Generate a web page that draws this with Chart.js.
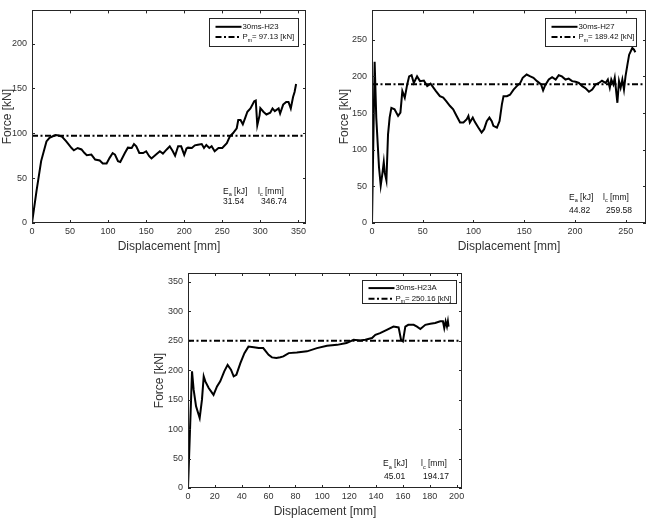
<!DOCTYPE html>
<html>
<head>
<meta charset="utf-8">
<script src="https://cdn.jsdelivr.net/npm/chart.js@4.4.0/dist/chart.umd.min.js"></script>
<style>
    body { margin: 0; background: #fff; }
    #wrap { position: relative; width: 648px; height: 523px; background: #fff; }
    canvas { position: absolute; }
</style>
</head>
<body>
<div id="wrap">
    <canvas id="chartH23" width="320" height="260" style="left:0;top:0"></canvas>
    <canvas id="chartH27" width="311" height="260" style="left:337px;top:0"></canvas>
    <canvas id="chartH23A" width="338" height="263" style="left:152px;top:260px"></canvas>
</div>
<script>
// test cases
const caseNames = ['30ms-H23', '30ms-H27', '30ms-H23A'];
const meanForce = [97.13, 189.42, 250.16];
const energyAbsorbed = [31.54, 44.82, 45.01];
const crushLength = [346.74, 259.58, 194.17];

// axis ranges
const xMax = [360, 270, 204];
const yMax = [237, 290, 365];
const xStep = [50, 50, 20];
const yStep = [50, 50, 50];

// 30ms-H23
const dispH23 = [0, 6, 12, 19, 23, 28, 31, 35, 39, 45, 52, 55, 60, 65, 69, 72, 78, 83, 89, 93,
    98, 102, 106, 109, 113, 116, 122, 126, 131, 134, 137, 141, 146, 150, 154, 157, 163, 168, 172, 177,
    181, 185, 188, 192, 196, 200, 203, 205, 210, 214, 218, 223, 226, 229, 233, 236, 240, 245, 250, 256,
    260, 264, 269, 271, 274, 277, 280, 283, 287, 292, 294, 296, 299, 300, 304, 308, 313, 316, 319, 324,
    326, 330, 334, 337, 340, 343, 345, 347];
const forceH23 = [0, 36, 69, 91, 95, 97, 98, 97.5, 96.5, 91, 83.6, 81, 83.6, 82, 78, 75.6, 76.3, 70.8, 69.7, 66.4,
    66.4, 72.6, 78, 76.3, 69, 68, 78, 84, 83.6, 88, 85.5, 78, 78, 80, 74.5, 72, 76.3, 80, 77.4, 82,
    85.5, 80, 75, 85.5, 85.5, 76, 83, 84, 83.6, 86.6, 87.3, 88, 83.6, 87, 83.6, 85.5, 80, 83.6, 83.6, 89,
    96.5, 100, 105.6, 114.8, 114.8, 110, 117, 124, 127.7, 135.7, 136.5, 109, 120, 128, 124, 121, 123, 127.7, 124.7, 127.7,
    122, 132, 135, 135, 127.7, 140.5, 146, 155];

// 30ms-H27
const dispH27 = [0, 2.6, 4.2, 6.9, 8.6, 10.2, 11.6, 12.5, 14.2, 15.8, 17.4, 19.1, 22.2, 25.7, 28, 29.9, 32.3, 34.7, 36.6, 39,
    41.2, 44.4, 47.3, 51.1, 54.4, 57.7, 63, 66.9, 70.2, 73.3, 76.9, 80, 83.4, 86.8, 90.1, 93.4, 95, 96.4, 99.3, 101.3,
    104.9, 108, 110.5, 113.1, 115.7, 118, 119.6, 123.1, 125.7, 128, 129.6, 132.9, 136, 139.5, 142.7, 146.1, 148.5, 152.4, 156, 159.1,
    162.6, 166.6, 168.6, 170.7, 174.2, 177.5, 181, 184, 187.1, 190.7, 193.8, 197.2, 200.6, 203.9, 207.1, 210.2, 213.8, 217, 220.4, 223.6,
    226.6, 230.2, 232.4, 234.3, 235.8, 237.8, 239.2, 241.8, 243.4, 245, 246.7, 248.3, 249.8, 251.7, 253.4, 256.5, 258.2, 259.5];
const forceH27 = [0, 220, 144, 76, 51, 67, 83, 69, 58, 121, 144, 157, 155, 146, 150.5, 180, 171, 189, 200, 201.6,
    191, 200, 193.5, 194.4, 186.7, 190, 180, 173, 171, 166, 159.6, 155, 146, 137, 137, 141.5, 146, 137, 143.8, 138,
    130, 123.4, 128, 139, 143.8, 139, 132.5, 130, 139, 161.8, 173, 173, 175, 182, 186.7, 191, 198, 202.5, 200, 198,
    193.5, 189, 180.8, 188, 195.7, 199, 195.7, 201.6, 200, 195.7, 197, 193.5, 192.6, 191, 186.7, 184, 179, 182, 189, 191,
    194, 191, 195.7, 184.5, 195.7, 189, 198, 164, 193.5, 184.5, 195.7, 182, 200, 216, 229.6, 238.7, 236.4, 233];

// 30ms-H23A
const dispH23A = [0, 3, 4.2, 6, 8.7, 10.4, 11.7, 12.9, 15.4, 19, 21.6, 24, 27, 29.5, 32, 34, 36, 39, 42, 45,
    49, 52.6, 56, 60, 62.5, 65.8, 68.7, 71, 75, 81, 88.6, 96, 103.5, 111, 118, 123.3, 128.3, 132, 137, 139.5,
    143, 148, 153, 156.8, 158.6, 160, 161.8, 164, 168, 170.5, 173, 176.7, 180.4, 184, 187.8, 189.8, 190.8, 191.8, 192.8, 193.5,
    194];
const forceH23A = [0, 198, 167, 138.6, 118.8, 150, 189.5, 181, 169.7, 158, 172.5, 181, 198, 209, 200.8, 189.5, 192, 212, 229, 240,
    239, 237.5, 237.5, 226, 221.7, 220.6, 222, 223.4, 229, 230, 232, 237.5, 241.5, 243, 246, 251.7, 250.6, 251.7, 254.5, 260,
    263, 268.6, 274, 272.6, 251.7, 249, 274, 277, 277, 274, 270, 277, 279, 280, 283, 283, 271.5, 283, 274, 283,
    274];

const FONT = '"Liberation Sans", Arial, Helvetica, sans-serif';
const TEXT_COLOR = '#333';
const AXIS_COLOR = '#262626';

function drawSubText(ctx, x, y, base, sub, rest, size) {
    ctx.font = size + 'px ' + FONT;
    ctx.fillText(base, x, y);
    x += ctx.measureText(base).width;
    ctx.font = (size * 0.65) + 'px ' + FONT;
    ctx.fillText(sub, x, y + size * 0.4);
    x += ctx.measureText(sub).width;
    ctx.font = size + 'px ' + FONT;
    ctx.fillText(rest, x, y);
}

/**
 * Рамка осей в стиле MATLAB, внутренние засечки, легенда и подпись E_a / l_c.
 */
const matlabFrame = {
    id: 'matlabFrame',
    afterDatasetsDraw(chart, args, opts) {
        const { ctx, chartArea: a, scales } = chart;
        ctx.save();

        // frame
        ctx.strokeStyle = AXIS_COLOR;
        ctx.lineWidth = 1;
        ctx.strokeRect(Math.round(a.left) + 0.5, Math.round(a.top) + 0.5,
            Math.round(a.right - a.left) - 1, Math.round(a.bottom - a.top) - 1);

        // inward ticks on all four sides
        const len = 3;
        ctx.beginPath();
        scales.x.ticks.forEach((t) => {
            const px = Math.round(scales.x.getPixelForValue(t.value)) + 0.5;
            ctx.moveTo(px, a.bottom); ctx.lineTo(px, a.bottom - len);
            ctx.moveTo(px, a.top); ctx.lineTo(px, a.top + len);
        });
        scales.y.ticks.forEach((t) => {
            const py = Math.round(scales.y.getPixelForValue(t.value)) + 0.5;
            ctx.moveTo(a.left, py); ctx.lineTo(a.left + len, py);
            ctx.moveTo(a.right, py); ctx.lineTo(a.right - len, py);
        });
        ctx.stroke();

        // legend
        const b = opts.box;
        const bx = Math.round(a.right - b.dr - b.w) + 0.5;
        const by = Math.round(a.top + b.dt) + 0.5;
        ctx.fillStyle = '#fff';
        ctx.fillRect(bx, by, b.w, b.h);
        ctx.strokeStyle = AXIS_COLOR;
        ctx.strokeRect(bx, by, b.w, b.h);

        ctx.strokeStyle = '#000';
        ctx.lineWidth = 2;
        ctx.beginPath();
        ctx.moveTo(bx + 6, by + b.row1);
        ctx.lineTo(bx + 32, by + b.row1);
        ctx.stroke();
        ctx.setLineDash([6, 2.5, 2, 2.5]);
        ctx.beginPath();
        ctx.moveTo(bx + 6, by + b.row2);
        ctx.lineTo(bx + 32, by + b.row2);
        ctx.stroke();
        ctx.setLineDash([]);

        ctx.fillStyle = '#111';
        ctx.textBaseline = 'middle';
        ctx.textAlign = 'left';
        ctx.font = '7.8px ' + FONT;
        ctx.fillText(opts.label, bx + 33, by + b.row1);
        drawSubText(ctx, bx + 33, by + b.row2, 'P', 'm', '= ' + opts.pm.toFixed(2) + ' [kN]', 7.8);

        // E_a / l_c note
        const n = opts.note;
        const y1 = a.bottom - n.row1;
        const y2 = a.bottom - n.row2;
        ctx.fillStyle = '#111';
        drawSubText(ctx, a.right - n.col1, y1, 'E', 'a', ' [kJ]', 8.5);
        drawSubText(ctx, a.right - n.col2, y1, 'l', 'c', ' [mm]', 8.5);
        ctx.font = '8.5px ' + FONT;
        ctx.fillText(opts.ea.toFixed(2), a.right - n.val1, y2);
        ctx.fillText(opts.lc.toFixed(2), a.right - n.val2, y2);

        ctx.restore();
    }
};

function makeChart(canvasId, idx, xs, ys, layout) {
    const curve = xs.map((x, i) => ({ x: x, y: ys[i] }));
    const meanLine = [{ x: 0, y: meanForce[idx] }, { x: xMax[idx], y: meanForce[idx] }];

    return new Chart(document.getElementById(canvasId), {
        type: 'line',
        data: {
            datasets: [{
                label: caseNames[idx],
                data: curve,
                borderColor: '#000',
                borderWidth: 2,
                pointRadius: 0,
                tension: 0
            }, {
                label: 'Pm',
                data: meanLine,
                borderColor: '#000',
                borderWidth: 2,
                borderDash: [6, 2.5, 2, 2.5],
                pointRadius: 0
            }]
        },
        options: {
            responsive: false,
            animation: false,
            layout: { padding: layout.padding },
            scales: {
                x: {
                    type: 'linear',
                    min: 0,
                    max: xMax[idx],
                    grid: { display: false, drawTicks: false },
                    border: { display: false },
                    ticks: {
                        stepSize: xStep[idx],
                        includeBounds: false,
                        autoSkip: false,
                        maxRotation: 0,
                        padding: 3,
                        color: TEXT_COLOR,
                        font: { family: FONT, size: 9 }
                    },
                    title: {
                        display: true,
                        text: 'Displacement [mm]',
                        color: TEXT_COLOR,
                        font: { family: FONT, size: 12 },
                        padding: { top: 0, bottom: layout.xTitlePad }
                    },
                    afterFit: (s) => { s.height = layout.xHeight; }
                },
                y: {
                    min: 0,
                    max: yMax[idx],
                    grid: { display: false, drawTicks: false },
                    border: { display: false },
                    ticks: {
                        stepSize: yStep[idx],
                        includeBounds: false,
                        padding: 5,
                        color: TEXT_COLOR,
                        font: { family: FONT, size: 9 }
                    },
                    title: {
                        display: true,
                        text: 'Force [kN]',
                        color: TEXT_COLOR,
                        font: { family: FONT, size: 12 },
                        padding: 0
                    },
                    afterFit: (s) => { s.width = layout.yWidth; }
                }
            },
            plugins: {
                legend: { display: false },
                tooltip: { enabled: false },
                matlabFrame: {
                    label: caseNames[idx],
                    pm: meanForce[idx],
                    ea: energyAbsorbed[idx],
                    lc: crushLength[idx],
                    box: layout.box,
                    note: layout.note
                }
            }
        },
        plugins: [matlabFrame]
    });
}

makeChart('chartH23', 0, dispH23, forceH23, {
    padding: { left: 0, top: 8, right: 14, bottom: 0 },
    yWidth: 32, xHeight: 37, xTitlePad: 6,
    box: { w: 89, h: 28, dr: 8, dt: 7.5, row1: 8.3, row2: 18.6 },
    note: { col1: 83, col2: 48, val1: 83, val2: 45, row1: 31.7, row2: 21.7 }
});

makeChart('chartH27', 1, dispH27, forceH27, {
    padding: { left: 0, top: 8, right: 2, bottom: 0 },
    yWidth: 35, xHeight: 37, xTitlePad: 6,
    box: { w: 91, h: 28, dr: 10, dt: 7.5, row1: 8.3, row2: 18.6 },
    note: { col1: 77, col2: 43, val1: 77, val2: 40, row1: 25.7, row2: 12.7 }
});

makeChart('chartH23A', 2, dispH23A, forceH23A, {
    padding: { left: 0, top: 13, right: 28, bottom: 0 },
    yWidth: 36, xHeight: 35, xTitlePad: 4,
    box: { w: 94, h: 23, dr: 6, dt: 7.4, row1: 7.6, row2: 18.3 },
    note: { col1: 79, col2: 41, val1: 78, val2: 39, row1: 24.3, row2: 11.6 }
});
</script>
</body>
</html>
